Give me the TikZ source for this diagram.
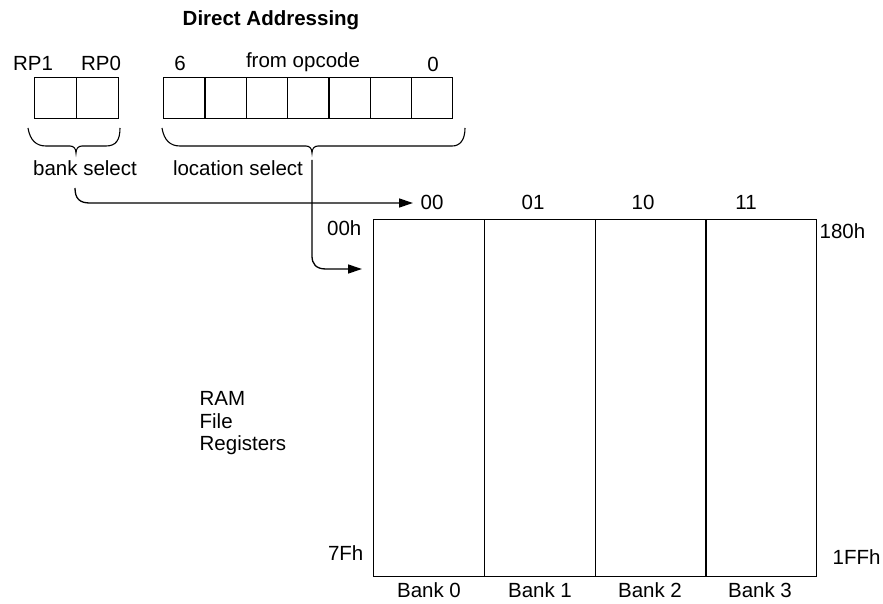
\documentclass[tikz,border=0pt]{standalone}
\usepackage{fontspec}
\setmainfont{Liberation Sans}
\usetikzlibrary{arrows.meta}
\begin{document}
\begin{tikzpicture}[x=1pt,y=-1pt, line width=1.3pt,
 cell/.style={draw, minimum width=42pt, minimum height=41pt, inner sep=0pt, anchor=north west},
 ocell/.style={draw, minimum width=41.3pt, minimum height=41pt, inner sep=0pt, anchor=north west},
 col/.style={draw, minimum width=110.75pt, minimum height=357pt, inner sep=0pt, anchor=north west},
 lbl/.style={font=\fontsize{20.5}{23}\selectfont, inner sep=0pt},
 arr/.style={-{Triangle[length=14pt,width=9pt]}},
 brace/.style={line width=1.1pt}]
\useasboundingbox (0,0) rectangle (883,604);
% title
\node[lbl, font=\fontsize{20.5}{23}\selectfont\bfseries] (title) at (271,20) {Direct Addressing};
% RP cells
\node[cell] (rp1) at (34,77) {};
\node[cell] (rp0) at (76,77) {};
\node[lbl] (trp1) at (33,63) {RP1};
\node[lbl] (trp0) at (101,63) {RP0};
% opcode cells
\foreach \i in {0,...,6} {
  \node[ocell] (op\i) at (163+41.3*\i,77) {};
}
\node[lbl] (t6) at (180,63) {6};
\node[lbl] (tfrom) at (303,62) {from opcode};
\node[lbl] (t0) at (433,64) {0};
% braces
\draw[brace] (28,128) .. controls (30,140) and (36,146) .. (46,146) -- (70,146)
  .. controls (74,146) and (76,149) .. (76,153) .. controls (76,149) and (78,146) .. (82,146)
  -- (106,146) .. controls (116,146) and (120,140) .. (120,128);
\draw[brace] (162,128) .. controls (164,140) and (170,146) .. (180,146) -- (306,146)
  .. controls (310,146) and (312,149) .. (312,153) .. controls (312,149) and (314,146) .. (318,146)
  -- (452,146) .. controls (460,146) and (465,140) .. (465,128);
\node[lbl] (bsel) at (85,168) {bank select};
\node[lbl] (lsel) at (238,168) {location select};
% bank columns
\foreach \i in {0,...,3} {
  \node[col] (b\i) at (373+110.75*\i,219) {};
}
\node[lbl] (h00) at (432,202) {00};
\node[lbl] (h01) at (533,202) {01};
\node[lbl] (h10) at (643,202) {10};
\node[lbl] (h11) at (746,202) {11};
\node[lbl, anchor=east] (a00) at (362,228) {00h};
\node[lbl, anchor=west] (a180) at (819,231) {180h};
\node[lbl, anchor=east] (a7f) at (364,553) {7Fh};
\node[lbl, anchor=west] (a1ff) at (832,557) {1FFh};
\node[lbl] (bank0) at (429,590) {Bank 0};
\node[lbl] (bank1) at (540,590) {Bank 1};
\node[lbl] (bank2) at (650,590) {Bank 2};
\node[lbl] (bank3) at (760,590) {Bank 3};
% RAM label
\node[lbl, anchor=west] (ram) at (199,398) {RAM};
\node[lbl, anchor=west] (file) at (199,421) {File};
\node[lbl, anchor=west] (regs) at (199,445) {Registers};
% arrows
\coordinate (bstart) at (75,188);
\coordinate (lstart) at (312,160);
\coordinate (bend) at (413,203);
\coordinate (lend) at (362,269);
\draw[arr] (bstart) .. controls (75,199) and (80,203) .. (90,203) -- (bend);
\draw[arr] (lstart) -- (312,256) .. controls (312,264) and (316,269) .. (326,269) -- (lend);
\end{tikzpicture}
\end{document}
